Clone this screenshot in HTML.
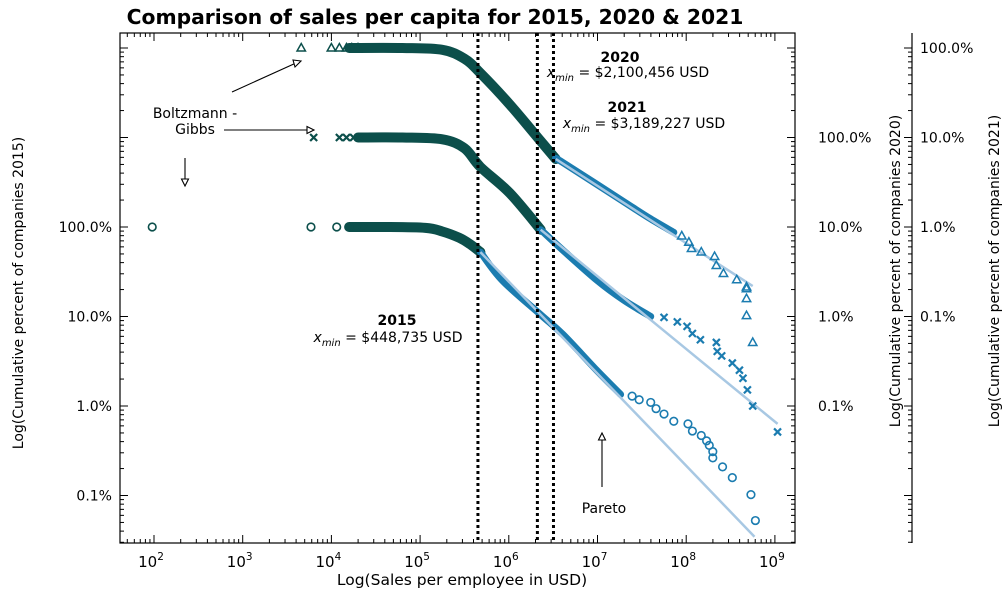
<!DOCTYPE html>
<html><head><meta charset="utf-8"><style>
body{margin:0;background:#fff;}
svg{display:block;font-family:"DejaVu Sans","Liberation Sans",sans-serif;}
</style></head><body>
<svg id="chart" width="1008" height="591" viewBox="0 0 1008 591" xmlns="http://www.w3.org/2000/svg">
<text x="435" y="24" text-anchor="middle" font-size="20.3" font-weight="bold">Comparison of sales per capita for 2015, 2020 &amp; 2021</text>
<rect x="120" y="33" width="675" height="510" fill="none" stroke="#000" stroke-width="1.2"/>
<line x1="912" y1="33" x2="912" y2="543" stroke="#000" stroke-width="1.2"/>
<g id="ticks"></g>
<g id="marks"></g>
<g id="labels" font-size="14">
<text x="462" y="585" text-anchor="middle" font-size="15.5">Log(Sales per employee in USD)</text>
<text transform="translate(23,293) rotate(-90)" text-anchor="middle">Log(Cumulative percent of companies 2015)</text>
<text transform="translate(900,271) rotate(-90)" text-anchor="middle">Log(Cumulative percent of companies 2020)</text>
<text transform="translate(999,271) rotate(-90)" text-anchor="middle">Log(Cumulative percent of companies 2021)</text>
<text x="397" y="325" text-anchor="middle" font-weight="bold">2015</text>
<text x="388" y="342" text-anchor="middle"><tspan font-style="italic">x</tspan><tspan font-size="10" font-style="italic" dy="4">min</tspan><tspan dy="-4"> = $448,735 USD</tspan></text>
<text x="620" y="62" text-anchor="middle" font-weight="bold">2020</text>
<text x="628" y="77" text-anchor="middle"><tspan font-style="italic">x</tspan><tspan font-size="10" font-style="italic" dy="4">min</tspan><tspan dy="-4"> = $2,100,456 USD</tspan></text>
<text x="627" y="112" text-anchor="middle" font-weight="bold">2021</text>
<text x="644" y="128" text-anchor="middle"><tspan font-style="italic">x</tspan><tspan font-size="10" font-style="italic" dy="4">min</tspan><tspan dy="-4"> = $3,189,227 USD</tspan></text>
<text x="195" y="118" text-anchor="middle">Boltzmann -</text>
<text x="195" y="134" text-anchor="middle">Gibbs</text>
<text x="604" y="513" text-anchor="middle">Pareto</text>
</g>
<g stroke="#000" stroke-width="1.1" fill="#fff">
<line x1="232" y1="92" x2="296" y2="63"/><polygon points="301,61 293,60 295,67"/>
<line x1="224" y1="130" x2="308" y2="130"/><polygon points="314,130 307,126.5 307,133.5"/>
<line x1="185" y1="158" x2="185" y2="180"/><polygon points="185,186 181.5,179 188.5,179"/>
<line x1="602" y1="487" x2="602" y2="440"/><polygon points="602,433 598.5,440 605.5,440"/>
</g>
</svg>
<script>
// x values are log10(USD); y values are decades below 100% cumulative share
const bodyX2015=[4.2,4.6,5.06,5.25,5.44,5.56,5.68];
const bodyD2015=[0,0,0.01,0.05,0.12,0.19,0.28];
const tailX2015=[5.68,5.93,6.36,6.61,6.99,7.26];
const tailD2015=[0.28,0.6,0.98,1.2,1.6,1.87];
const ptX2015=[1.98,3.77,4.06,4.2,4.28,4.36,7.39,7.47,7.6,7.66,7.75,7.86,8.02,8.07,8.17,8.23,8.26,8.3,8.3,8.41,8.52,8.73,8.78];
const ptD2015=[0,0,0,0,0,0,1.89,1.93,1.96,2.03,2.09,2.17,2.2,2.28,2.33,2.39,2.44,2.51,2.58,2.68,2.8,2.99,3.28];
const fitX2015=[5.68,8.77];const fitD2015=[0.28,3.46];

const bodyX2020=[4.3,4.8,5.25,5.5,5.68,6.01,6.36];
const bodyD2020=[0,0,0.02,0.12,0.33,0.62,1.03];
const tailX2020=[6.36,6.6,7.0,7.3,7.6];
const tailD2020=[1.03,1.25,1.6,1.82,2.0];
const ptX2020=[3.8,4.09,4.17,4.25,4.32,7.75,7.9,8.01,8.07,8.16,8.34,8.35,8.4,8.52,8.6,8.64,8.69,8.75,9.03];
const ptD2020=[0,0,0,0,0,2.01,2.06,2.11,2.19,2.26,2.29,2.39,2.44,2.52,2.6,2.69,2.82,3.0,3.29];
const fitX2020=[6.36,9.03];const fitD2020=[1.03,3.2];

const bodyX2021=[4.2,4.8,5.25,5.5,5.68,6.01,6.36,6.53];
const bodyD2021=[0,0,0.02,0.12,0.28,0.63,1.04,1.24];
const tailX2021=[6.53,6.61,7.3,7.6,7.86];
const tailD2021=[1.24,1.28,1.72,1.91,2.06];
const ptX2021=[3.66,4.0,4.09,4.17,4.23,4.3,7.95,8.03,8.06,8.17,8.32,8.34,8.42,8.57,8.68,8.68,8.68,8.68,8.75];
const ptD2021=[0,0,0,0,0,0,2.1,2.17,2.24,2.28,2.33,2.43,2.52,2.59,2.67,2.69,2.8,2.99,3.29];
const fitX2021=[6.53,8.75];const fitD2021=[1.24,2.66];

const xmins=[448735,2100456,3189227];
const xTickExp=[2,3,4,5,6,7,8,9];
const yTickLabels=['100.0%','10.0%','1.0%','0.1%'];

const NS='http://www.w3.org/2000/svg';
const X=lx=>154+(lx-2)*88.7;
const DEC=89.5;
const base={2015:227,2020:137.5,2021:48};
const Y=(s,d)=>base[s]+d*DEC;
const marks=document.getElementById('marks');
const ticks=document.getElementById('ticks');
function mk(tag,attrs,parent){const e=document.createElementNS(NS,tag);for(const k in attrs)e.setAttribute(k,attrs[k]);parent.appendChild(e);return e;}
const clip=mk('clipPath',{id:'pc'},marks);mk('rect',{x:120,y:33,width:675,height:510},clip);
const g=mk('g',{'clip-path':'url(#pc)'},marks);
function path(xs,ds,s){
  const p=xs.map((v,i)=>[X(v),Y(s,ds[i])]);
  let d='M'+p[0][0].toFixed(1)+','+p[0][1].toFixed(1);
  for(let i=0;i<p.length-1;i++){
    const p0=p[i-1]||p[i],p1=p[i],p2=p[i+1],p3=p[i+2]||p2;
    const c1=[p1[0]+(p2[0]-p0[0])/6,p1[1]+(p2[1]-p0[1])/6];
    const c2=[p2[0]-(p3[0]-p1[0])/6,p2[1]-(p3[1]-p1[1])/6];
    d+='C'+c1.map(n=>n.toFixed(1)).join(',')+' '+c2.map(n=>n.toFixed(1)).join(',')+' '+p2.map(n=>n.toFixed(1)).join(',');
  }
  return d;
}
const B='#1b7cb0',DG='#0c4f4b',LB='#a8c8e3';
const S=[[2015,bodyX2015,bodyD2015,tailX2015,tailD2015,ptX2015,ptD2015,fitX2015,fitD2015,'o'],
[2020,bodyX2020,bodyD2020,tailX2020,tailD2020,ptX2020,ptD2020,fitX2020,fitD2020,'x'],
[2021,bodyX2021,bodyD2021,tailX2021,tailD2021,ptX2021,ptD2021,fitX2021,fitD2021,'t']];
S.forEach(([s,bx,bd,tx,td,px,pd,fx,fd,m])=>{
  const b=mk('path',{d:path(bx,bd,s),fill:'none',stroke:DG,'stroke-width':10,'stroke-linecap':'round','stroke-linejoin':'round'},g);
  
  
  const t=mk('path',{d:path(tx,td,s),fill:'none',stroke:B,'stroke-width':7,'stroke-linecap':'round','stroke-linejoin':'round'},g);
  
  
  const f=mk('path',{d:path(fx,fd,s),fill:'none',stroke:LB,'stroke-width':2.5},g);
  
  
  px.forEach((v,i)=>{
    const cx=X(v),cy=Y(s,pd[i]);let e;
    const c=v<5?DG:B;
    if(m==='o')e=mk('circle',{cx:cx,cy:cy,r:3.8,fill:'none',stroke:c,'stroke-width':1.6},g);
    else if(m==='x')e=mk('path',{d:`M${cx-3.5},${cy-3.5}L${cx+3.5},${cy+3.5}M${cx-3.5},${cy+3.5}L${cx+3.5},${cy-3.5}`,stroke:c,'stroke-width':2.2},g);
    else e=mk('polygon',{points:`${cx},${cy-4.5} ${cx-4.2},${cy+3} ${cx+4.2},${cy+3}`,fill:'none',stroke:c,'stroke-width':1.5},g);
    
    
  });
});
xmins.forEach((v,i)=>{
  const x=X(Math.log10(v));
  const l=mk('line',{x1:x,y1:33,x2:x,y2:543,stroke:'#000','stroke-width':3,'stroke-dasharray':'3,3'},marks);
  
  
});
function xminor(e){for(let k=2;k<10;k++){const xm=X(e+Math.log10(k));if(xm>120&&xm<795){mk('line',{x1:xm,y1:543,x2:xm,y2:539,stroke:'#000'},ticks);mk('line',{x1:xm,y1:33,x2:xm,y2:37,stroke:'#000'},ticks);}}}
xminor(1);
xTickExp.forEach(e=>{
  const x=X(e);
  mk('line',{x1:x,y1:543,x2:x,y2:535,stroke:'#000'},ticks);
  mk('line',{x1:x,y1:33,x2:x,y2:41,stroke:'#000'},ticks);
  const t=mk('text',{x:x-3,y:567,'text-anchor':'middle','font-size':15},ticks);
  
  
  t.innerHTML='10<tspan font-size="10.5" dy="-7">'+e+'</tspan>';
  xminor(e);
});
function yaxis(b,x,dir,tx){
  for(let d=-3;d<=6;d++){
    const y=b+d*DEC;
    if(y>=33&&y<=543)mk('line',{x1:x,y1:y,x2:x+dir*8,y2:y,stroke:'#000'},ticks);
    for(let k=2;k<10;k++){const ym=b+(d-Math.log10(k))*DEC+DEC;if(ym>=33&&ym<=543)mk('line',{x1:x,y1:ym,x2:x+dir*4,y2:ym,stroke:'#000'},ticks);}
  }
  yTickLabels.forEach((s,i)=>{const y=b+i*DEC;
    const t=mk('text',{x:tx,y:y+5,'text-anchor':x<200?'end':'start','font-size':14},ticks);
    
    
    t.textContent=s;});
}
yaxis(base[2015],120,1,112);
yaxis(base[2020],795,-1,818);
yaxis(base[2021],912,-1,920);
</script>
</body></html>
